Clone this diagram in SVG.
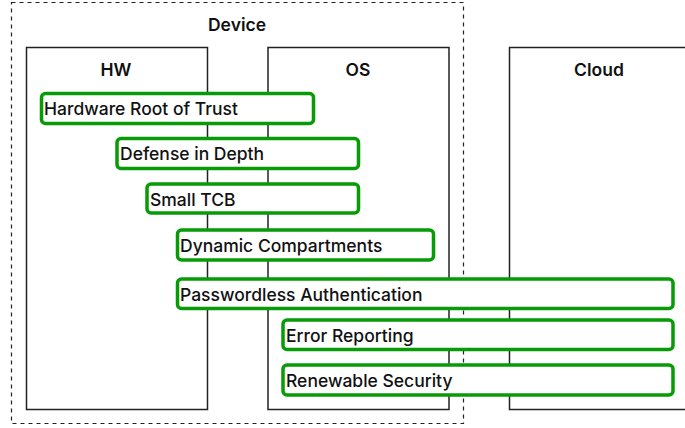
<svg xmlns="http://www.w3.org/2000/svg" width="685" height="428" viewBox="0 0 685 428">
  <style>
    .zone { fill: #ffffff; stroke: #222222; stroke-width: 1.5; }
    .device { fill: none; stroke: #222222; stroke-width: 1.2; stroke-dasharray: 4 4; }
    .title { font-family: Inter, "Liberation Sans", sans-serif; font-size: 17.5px; font-weight: 600; fill: #111111; text-anchor: middle; }
    .cap rect { fill: #ffffff; stroke: #079b07; stroke-width: 3.5; }
    .cap text { font-family: Inter, "Liberation Sans", sans-serif; font-size: 17.5px; font-weight: 500; fill: #111111; }
  </style>
  <rect width="685" height="428" fill="#ffffff"/>

  <!-- Device boundary -->
  <g id="device">
    <rect class="device" x="11.5" y="2.5" width="452" height="421"/>
    <text class="title" x="237" y="31">Device</text>
  </g>

  <!-- Layers -->
  <g id="hw">
    <rect class="zone" x="26.5" y="47.5" width="181" height="362"/>
    <text class="title" x="116" y="76">HW</text>
  </g>
  <g id="os">
    <rect class="zone" x="268" y="47.5" width="181" height="362"/>
    <text class="title" x="358" y="76">OS</text>
  </g>
  <g id="cloud">
    <rect class="zone" x="509.5" y="47.5" width="200" height="362"/>
    <text class="title" x="599" y="76">Cloud</text>
  </g>

  <!-- Properties spanning layers -->
  <g id="connectors"></g>

  <g id="hardware-root-of-trust" class="cap">
    <rect x="41.5" y="93.5" width="272" height="30" rx="4"/>
    <text x="44" y="114.5">Hardware Root of Trust</text>
  </g>
  <g id="defense-in-depth" class="cap">
    <rect x="117" y="138.5" width="241.5" height="30" rx="4"/>
    <text x="120" y="160">Defense in Depth</text>
  </g>
  <g id="small-tcb" class="cap">
    <rect x="147" y="184" width="211.5" height="29" rx="4"/>
    <text x="150" y="205.5">Small TCB</text>
  </g>
  <g id="dynamic-compartments" class="cap">
    <rect x="177.5" y="230" width="256" height="30" rx="4"/>
    <text x="180" y="251.5">Dynamic Compartments</text>
  </g>
  <g id="passwordless-authentication" class="cap">
    <rect x="177.5" y="279" width="495.5" height="29.5" rx="4"/>
    <text x="180" y="300.5">Passwordless Authentication</text>
  </g>
  <g id="error-reporting" class="cap">
    <rect x="283" y="320" width="390" height="29.5" rx="4"/>
    <text x="286" y="341.5">Error Reporting</text>
  </g>
  <g id="renewable-security" class="cap">
    <rect x="283" y="365" width="390" height="30" rx="4"/>
    <text x="286" y="386.5">Renewable Security</text>
  </g>
</svg>
